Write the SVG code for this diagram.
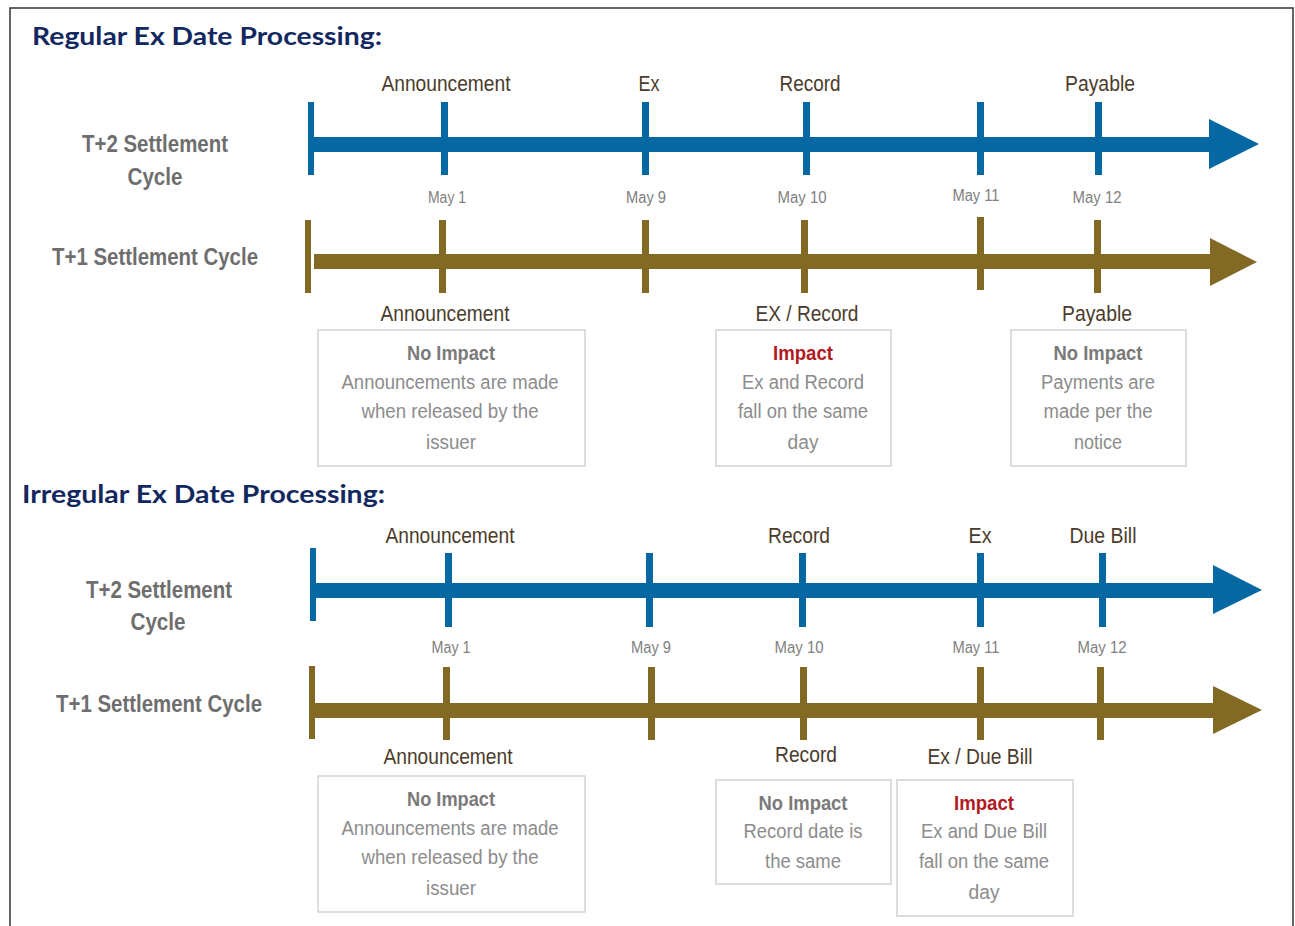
<svg xmlns="http://www.w3.org/2000/svg" width="1295" height="926" viewBox="0 0 1295 926">
<style>
.t{font-family:"Liberation Sans Narrow","Liberation Sans",Arial,sans-serif;text-anchor:middle}
.title{font-family:Lato,"Open Sans",sans-serif;font-weight:bold;font-size:25px;fill:#13285f}
.lbl{font-size:22px;fill:#4b3b2b}
.date{font-size:16px;fill:#808080}
.row{font-size:24px;font-weight:bold;fill:#6e6e6e}
.bt{font-size:19.5px;fill:#8c8c8c}
.bh{font-size:20px;font-weight:bold;fill:#7a7a7a}
.bi{font-size:20px;font-weight:bold;fill:#b11a22}
.box{fill:#fff;stroke:#d2d2d2;stroke-width:1.5}
.blue{fill:#0568a3}
.gold{fill:#826a24}
</style>
<rect width="1295" height="926" fill="#fff"/>
<path d="M10,926 V8 H1293 V926" fill="none" stroke="#333" stroke-width="1.5"/>

<g id="titles">
<text class="title" x="32" y="45" textLength="350" lengthAdjust="spacingAndGlyphs">Regular Ex Date Processing:</text>
<text class="title" x="22" y="503" textLength="363" lengthAdjust="spacingAndGlyphs">Irregular Ex Date Processing:</text>
</g>

<g id="row-labels">
<text class="t row" x="155" y="152" textLength="146" lengthAdjust="spacingAndGlyphs">T+2 Settlement</text>
<text class="t row" x="155" y="185" textLength="55" lengthAdjust="spacingAndGlyphs">Cycle</text>
<text class="t row" x="155" y="265" textLength="206" lengthAdjust="spacingAndGlyphs">T+1 Settlement Cycle</text>
<text class="t row" x="159" y="598" textLength="146" lengthAdjust="spacingAndGlyphs">T+2 Settlement</text>
<text class="t row" x="158" y="630" textLength="55" lengthAdjust="spacingAndGlyphs">Cycle</text>
<text class="t row" x="159" y="712" textLength="206" lengthAdjust="spacingAndGlyphs">T+1 Settlement Cycle</text>
</g>

<g id="connectors">
<!-- regular T+2 -->
<g class="blue">
<rect x="308" y="102" width="6" height="73"/>
<rect x="314" y="137" width="898" height="15"/>
<polygon points="1209,119 1259,144 1209,169"/>
<rect x="441" y="102" width="7" height="73"/>
<rect x="642" y="102" width="7" height="73"/>
<rect x="803" y="102" width="7" height="73"/>
<rect x="977" y="102" width="7" height="73"/>
<rect x="1095" y="102" width="7" height="73"/>
</g>
<!-- regular T+1 -->
<g class="gold">
<rect x="305" y="220" width="6" height="73"/>
<rect x="314" y="254" width="898" height="15"/>
<polygon points="1210,238 1257,262 1210,286"/>
<rect x="439" y="220" width="7" height="73"/>
<rect x="642" y="220" width="7" height="73"/>
<rect x="801" y="220" width="7" height="73"/>
<rect x="977" y="217" width="7" height="73"/>
<rect x="1094" y="220" width="7" height="73"/>
</g>
<!-- irregular T+2 -->
<g class="blue">
<rect x="310" y="548" width="6" height="73"/>
<rect x="316" y="583" width="899" height="15"/>
<polygon points="1213,565 1262,590 1213,614"/>
<rect x="445" y="553" width="7" height="74"/>
<rect x="646" y="553" width="7" height="74"/>
<rect x="799" y="553" width="7" height="74"/>
<rect x="977" y="553" width="7" height="74"/>
<rect x="1099" y="553" width="7" height="74"/>
</g>
<!-- irregular T+1 -->
<g class="gold">
<rect x="309" y="666" width="6" height="73"/>
<rect x="315" y="703" width="900" height="15"/>
<polygon points="1213,686 1262,710 1213,734"/>
<rect x="443" y="667" width="7" height="73"/>
<rect x="648" y="667" width="7" height="73"/>
<rect x="800" y="667" width="7" height="73"/>
<rect x="977" y="667" width="7" height="73"/>
<rect x="1097" y="667" width="7" height="73"/>
</g>
</g>

<g id="regular-labels">
<text class="t lbl" x="446" y="91" textLength="129" lengthAdjust="spacingAndGlyphs">Announcement</text>
<text class="t lbl" x="649" y="91" textLength="21" lengthAdjust="spacingAndGlyphs">Ex</text>
<text class="t lbl" x="810" y="91" textLength="61" lengthAdjust="spacingAndGlyphs">Record</text>
<text class="t lbl" x="1100" y="91" textLength="70" lengthAdjust="spacingAndGlyphs">Payable</text>
<text class="t date" x="447" y="203" textLength="38" lengthAdjust="spacingAndGlyphs">May 1</text>
<text class="t date" x="646" y="203" textLength="40" lengthAdjust="spacingAndGlyphs">May 9</text>
<text class="t date" x="802" y="203" textLength="49" lengthAdjust="spacingAndGlyphs">May 10</text>
<text class="t date" x="976" y="201" textLength="47" lengthAdjust="spacingAndGlyphs">May 11</text>
<text class="t date" x="1097" y="203" textLength="49" lengthAdjust="spacingAndGlyphs">May 12</text>
<text class="t lbl" x="445" y="321" textLength="129" lengthAdjust="spacingAndGlyphs">Announcement</text>
<text class="t lbl" x="807" y="321" textLength="103" lengthAdjust="spacingAndGlyphs">EX / Record</text>
<text class="t lbl" x="1097" y="321" textLength="70" lengthAdjust="spacingAndGlyphs">Payable</text>
</g>

<g id="reg-box-announcement">
<rect class="box" x="318" y="330" width="267" height="136"/>
<text class="t bh" x="451" y="360" textLength="88" lengthAdjust="spacingAndGlyphs">No Impact</text>
<text class="t bt" x="450" y="389" textLength="217" lengthAdjust="spacingAndGlyphs">Announcements are made</text>
<text class="t bt" x="450" y="418" textLength="177" lengthAdjust="spacingAndGlyphs">when released by the</text>
<text class="t bt" x="451" y="449" textLength="50" lengthAdjust="spacingAndGlyphs">issuer</text>
</g>
<g id="reg-box-exrecord">
<rect class="box" x="716" y="330" width="175" height="136"/>
<text class="t bi" x="803" y="360" textLength="60" lengthAdjust="spacingAndGlyphs">Impact</text>
<text class="t bt" x="803" y="389" textLength="122" lengthAdjust="spacingAndGlyphs">Ex and Record</text>
<text class="t bt" x="803" y="418" textLength="130" lengthAdjust="spacingAndGlyphs">fall on the same</text>
<text class="t bt" x="803" y="449" textLength="31" lengthAdjust="spacingAndGlyphs">day</text>
</g>
<g id="reg-box-payable">
<rect class="box" x="1011" y="330" width="175" height="136"/>
<text class="t bh" x="1098" y="360" textLength="89" lengthAdjust="spacingAndGlyphs">No Impact</text>
<text class="t bt" x="1098" y="389" textLength="114" lengthAdjust="spacingAndGlyphs">Payments are</text>
<text class="t bt" x="1098" y="418" textLength="109" lengthAdjust="spacingAndGlyphs">made per the</text>
<text class="t bt" x="1098" y="449" textLength="48" lengthAdjust="spacingAndGlyphs">notice</text>
</g>

<g id="irregular-labels">
<text class="t lbl" x="450" y="543" textLength="129" lengthAdjust="spacingAndGlyphs">Announcement</text>
<text class="t lbl" x="799" y="543" textLength="62" lengthAdjust="spacingAndGlyphs">Record</text>
<text class="t lbl" x="980" y="543" textLength="23" lengthAdjust="spacingAndGlyphs">Ex</text>
<text class="t lbl" x="1103" y="543" textLength="67" lengthAdjust="spacingAndGlyphs">Due Bill</text>
<text class="t date" x="451" y="653" textLength="39" lengthAdjust="spacingAndGlyphs">May 1</text>
<text class="t date" x="651" y="653" textLength="40" lengthAdjust="spacingAndGlyphs">May 9</text>
<text class="t date" x="799" y="653" textLength="49" lengthAdjust="spacingAndGlyphs">May 10</text>
<text class="t date" x="976" y="653" textLength="47" lengthAdjust="spacingAndGlyphs">May 11</text>
<text class="t date" x="1102" y="653" textLength="49" lengthAdjust="spacingAndGlyphs">May 12</text>
<text class="t lbl" x="448" y="764" textLength="129" lengthAdjust="spacingAndGlyphs">Announcement</text>
<text class="t lbl" x="806" y="762" textLength="62" lengthAdjust="spacingAndGlyphs">Record</text>
<text class="t lbl" x="980" y="764" textLength="105" lengthAdjust="spacingAndGlyphs">Ex / Due Bill</text>
</g>

<g id="irr-box-announcement">
<rect class="box" x="318" y="776" width="267" height="136"/>
<text class="t bh" x="451" y="806" textLength="88" lengthAdjust="spacingAndGlyphs">No Impact</text>
<text class="t bt" x="450" y="835" textLength="217" lengthAdjust="spacingAndGlyphs">Announcements are made</text>
<text class="t bt" x="450" y="864" textLength="177" lengthAdjust="spacingAndGlyphs">when released by the</text>
<text class="t bt" x="451" y="895" textLength="50" lengthAdjust="spacingAndGlyphs">issuer</text>
</g>
<g id="irr-box-record">
<rect class="box" x="716" y="780" width="175" height="104"/>
<text class="t bh" x="803" y="810" textLength="89" lengthAdjust="spacingAndGlyphs">No Impact</text>
<text class="t bt" x="803" y="838" textLength="119" lengthAdjust="spacingAndGlyphs">Record date is</text>
<text class="t bt" x="803" y="868" textLength="76" lengthAdjust="spacingAndGlyphs">the same</text>
</g>
<g id="irr-box-exduebill">
<rect class="box" x="897" y="780" width="176" height="136"/>
<text class="t bi" x="984" y="810" textLength="60" lengthAdjust="spacingAndGlyphs">Impact</text>
<text class="t bt" x="984" y="838" textLength="126" lengthAdjust="spacingAndGlyphs">Ex and Due Bill</text>
<text class="t bt" x="984" y="868" textLength="130" lengthAdjust="spacingAndGlyphs">fall on the same</text>
<text class="t bt" x="984" y="899" textLength="31" lengthAdjust="spacingAndGlyphs">day</text>
</g>
</svg>
